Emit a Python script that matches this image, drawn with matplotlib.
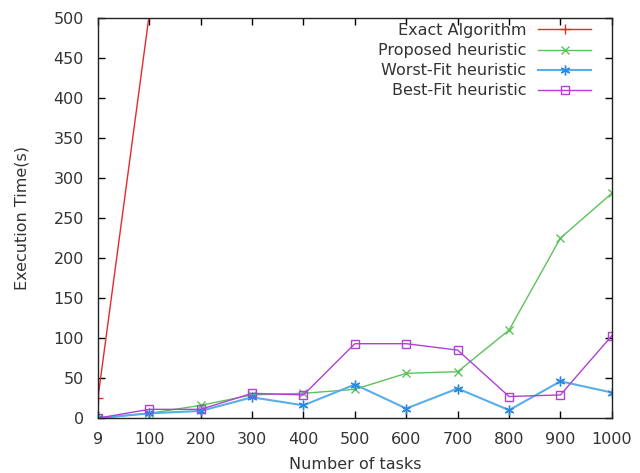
import matplotlib
matplotlib.use("Agg")
import matplotlib.pyplot as plt

tasks = ["9", "100", "200", "300", "400", "500", "600", "700", "800", "900", "1000"]
exact = [25, 505]
proposed = [0, 6, 16, 29, 31, 36, 56, 58, 110, 225, 281]
worst_fit = [0, 6, 9, 26, 16, 42, 12, 37, 10, 46, 32]
best_fit = [0, 11, 11, 31, 29, 93, 93, 85, 27, 29, 103]

plt.rcParams['font.family'] = ['DejaVu Sans']
fig = plt.figure(figsize=(6.4, 4.73), dpi=100)
ax = fig.add_axes([0.153, 0.116, 0.803, 0.846])

x = list(range(len(tasks)))
txt = '#333333'
fs = 11.5
ax.plot(x[:len(exact)], exact, color='#e8282b', lw=1.0, marker='+', ms=7, mew=1.0,
        label='Exact Algorithm')
ax.plot(x, proposed, color='#5cc35c', lw=1.0, marker='x', ms=6, mew=1.0,
        label='Proposed heuristic')
ax.plot(x, worst_fit, color='#5aaee8', lw=1.5, marker=(6, 2, 0), ms=7, mew=1.0,
        mec='#2a8ae0', label='Worst-Fit heuristic')
ax.plot(x, best_fit, color='#b040d8', lw=1.0, marker='s', ms=6, mew=1.0,
        mfc='none', label='Best-Fit heuristic')

ax.set_xlim(0, len(tasks) - 1)
ax.set_ylim(0, 500)
ax.set_xticks(x)
ax.set_xticklabels(tasks)
ax.set_yticks(range(0, 501, 50))
ax.tick_params(direction='in', top=True, right=True, length=5, width=1,
               labelsize=fs, labelcolor=txt)
ax.tick_params(axis='x', pad=10)
ax.tick_params(axis='y', pad=10)
for s in ax.spines.values():
    s.set_linewidth(1.0)
    s.set_color('#222222')

ax.set_xlabel('Number of tasks', fontsize=fs, color=txt, labelpad=7)
ax.set_ylabel('Execution Time(s)', fontsize=fs, color=txt, labelpad=17)

leg = ax.legend(loc='upper right', frameon=False, markerfirst=False,
                fontsize=fs, handlelength=3.3, handletextpad=0.75,
                labelspacing=0.32, borderaxespad=0, borderpad=0,
                bbox_to_anchor=(591 / 640, 1 - 23 / 473),
                bbox_transform=fig.transFigure)
for t in leg.get_texts():
    t.set_color(txt)

fig.savefig('out.png', dpi=100)
